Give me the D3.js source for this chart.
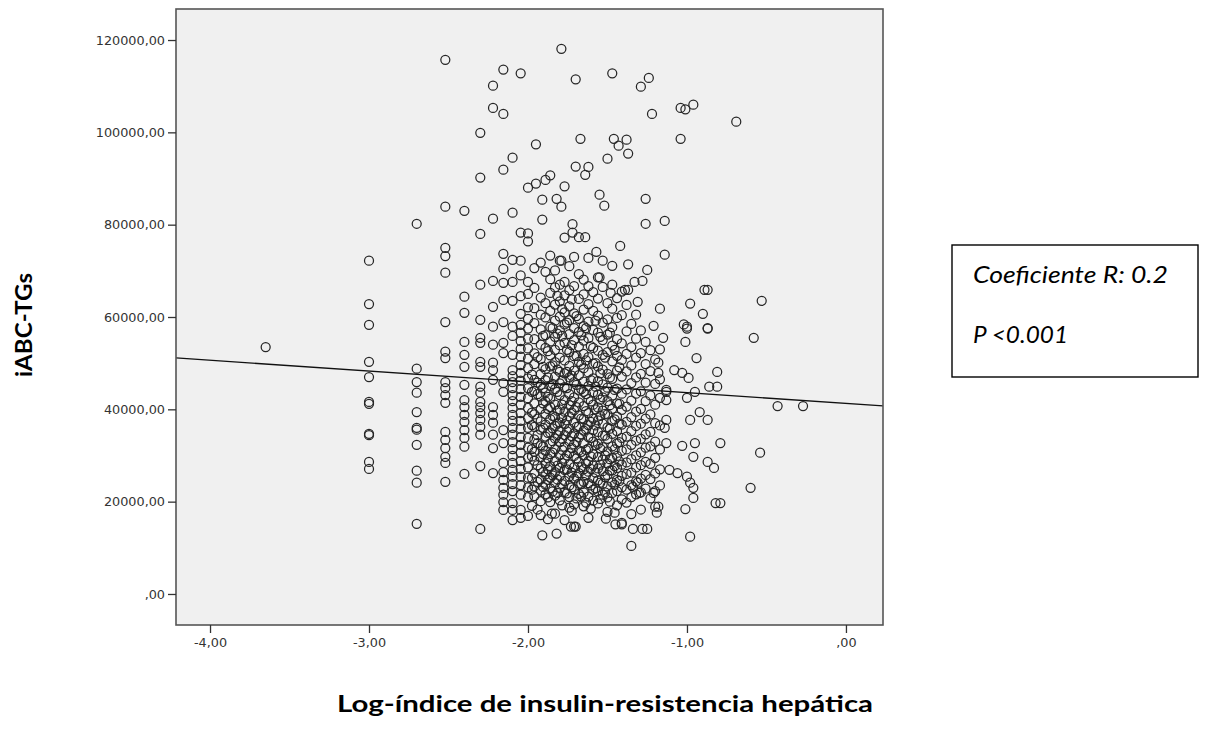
<!DOCTYPE html>
<html>
<head>
<meta charset="utf-8">
<script src="https://cdn.jsdelivr.net/npm/d3@7"></script>
<style>
  body { margin: 0; background: #fff; }
</style>
</head>
<body>
<div id="chart"></div>
<script>
// x = Log-índice de insulin-resistencia hepática, y = iABC-TGs
// discrete x levels (low resolution values) and their y readings
const levelX = [-3.65, -3.00, -2.70, -2.52, -2.40, -2.30, -2.22, -2.155, -2.097, -2.046, -2.00,
  -1.96, -1.92, -1.89, -1.86, -1.83, -1.80, -1.77, -1.74, -1.71, -1.68, -1.65, -1.62, -1.59,
  -1.56, -1.53, -1.50, -1.47, -1.44, -1.41, -1.38, -1.35, -1.32, -1.29, -1.26, -1.23, -1.20, -1.17];

const levelY = [
  [53500],
  [72200, 62800, 58300, 50300, 47000, 41600, 41200, 34700, 34400, 28600, 27100],
  [80200, 48800, 45900, 43600, 39400, 36000, 35600, 32300, 26700, 24100, 15200],
  [115700, 83900, 75000, 73200, 69600, 58900, 52500, 51100, 45900, 44600, 43100, 41400, 35100, 33400, 31600, 29700, 28400, 24300],
  [83000, 64400, 60900, 54600, 51800, 49200, 45300, 42000, 40500, 38800, 37300, 35500, 33800, 31900, 26000],
  [99900, 90200, 78000, 67000, 59400, 55500, 54400, 50300, 49200, 44900, 43600, 41600, 40500, 39200, 37700, 36200, 34500, 27700, 14100],
  [110100, 105300, 81300, 67800, 62200, 57900, 54000, 50100, 48500, 46400, 40500, 38800, 37100, 34500, 31600, 26200],
  [113600, 104000, 91900, 73700, 70400, 67400, 63700, 58900, 54400, 52200, 45700, 43800, 35500, 32700, 28400, 26400, 24700, 23000, 21500, 19900, 18200],
  [94500, 82600, 72400, 67600, 63500, 57900, 55900, 51800, 48500, 47200, 45900, 44600, 43100, 41800, 40300, 38800, 37500, 36000, 34500, 32900, 31400, 29900, 28400, 26900, 25400, 23800, 22300, 19700, 18200, 16000],
  [112800, 78300, 72200, 69000, 64500, 60700, 58300, 56600, 54800, 53100, 51400, 49600, 47900, 46200, 44400, 42700, 41000, 39200, 37500, 35800, 34000, 32300, 30600, 28800, 27100, 25400, 23600, 21500, 18200, 16500],
  [88000, 78100, 76400, 67600, 65000, 62100, 59600, 57500, 55300, 53200, 51000, 48900, 46700, 44600, 42400, 40300, 38100, 36000, 33800, 31700, 29500, 27400, 25200, 23100, 21000, 16900],
  [70600, 66300, 61900, 58700, 55200, 52100, 49800, 46400, 44000, 41300, 38900, 36200, 33500, 30800, 28900, 26100, 23300, 21200],
  [71800, 64200, 60500, 57300, 54000, 50900, 47600, 45300, 42800, 40100, 37400, 35600, 32200, 29600, 27200, 24800, 22400, 20100, 17100],
  [69800, 63000, 59900, 56100, 53300, 48700, 46300, 43600, 41700, 39000, 36700, 34100, 31000, 28300, 25900, 23700, 21600],
  [73300, 68200, 65200, 61300, 57900, 54700, 51700, 49300, 45100, 42300, 40500, 37900, 35000, 32600, 30300, 27700, 25200, 22900, 19900],
  [70100, 66400, 62700, 59200, 55700, 52900, 50200, 47100, 44400, 41000, 38300, 36400, 33700, 31400, 28800, 26400, 24100, 21300, 17400],
  [72200, 67000, 63400, 60100, 57100, 53900, 51200, 48100, 45600, 43100, 40000, 37200, 35300, 32900, 30100, 27300, 25600, 23000, 20300],
  [67600, 64700, 61000, 58400, 54400, 50600, 47800, 44800, 42000, 39500, 36800, 34400, 31900, 29300, 26900, 24500, 22100, 16000],
  [71000, 65800, 62300, 59300, 56300, 52400, 49400, 46900, 43300, 40900, 38500, 35800, 33100, 30500, 28100, 25500, 23500, 21000, 18700],
  [73000, 66700, 60800, 57600, 55000, 51500, 48400, 45900, 42600, 39800, 37100, 34800, 32400, 29900, 27500, 25000, 22700, 19400, 14600],
  [69300, 63900, 59600, 56800, 53600, 50300, 47400, 44100, 41500, 38700, 36300, 33900, 31100, 28600, 26200, 23900, 21700],
  [68100, 64900, 61600, 58000, 54900, 52000, 48900, 46000, 43800, 40700, 37900, 35400, 32700, 30000, 27000, 24300, 22000, 19000],
  [72800, 66700, 62800, 59000, 55400, 51300, 48000, 45000, 42200, 39200, 36600, 34000, 31500, 28800, 26500, 24000, 21100, 16500],
  [65400, 61300, 57200, 53300, 49900, 46700, 43700, 41000, 38000, 35500, 33000, 30300, 27800, 25100, 22600, 20200],
  [68600, 64000, 60300, 56600, 52700, 49300, 46100, 43200, 40400, 37600, 35100, 32500, 29700, 27200, 24600, 22200, 19600],
  [72200, 66500, 58800, 55000, 51800, 48600, 45400, 42600, 39700, 36900, 34300, 31800, 29100, 26600, 23900, 21500],
  [63000, 59500, 56200, 52400, 47700, 44700, 41800, 38900, 36100, 33600, 30900, 28300, 25800, 23300, 20900, 17800],
  [67000, 61800, 57800, 53800, 50400, 46600, 43000, 40100, 37500, 34700, 32000, 29500, 26800, 24200, 21900],
  [64100, 59800, 55200, 51600, 48400, 44500, 41300, 38400, 35300, 32600, 29900, 27300, 24700, 22300, 19200],
  [65500, 60400, 54300, 50700, 47100, 43400, 39900, 36700, 33800, 31000, 28000, 25600, 23100, 20500],
  [62600, 56900, 52000, 48200, 44300, 40600, 37300, 34100, 31300, 28500, 26000, 22600, 19800],
  [58500, 53500, 49500, 45700, 41900, 38300, 35300, 32300, 29200, 26300, 23600, 21000, 17300],
  [60500, 55300, 51200, 46900, 43400, 39500, 36400, 33200, 30000, 27400, 24400, 21600],
  [57100, 52200, 47700, 43900, 40100, 36900, 33600, 30700, 27900, 25000, 22000, 18300],
  [54600, 49800, 45800, 41800, 38000, 34600, 31700, 28600, 25800, 22800],
  [52800, 48300, 43000, 38900, 35100, 32000, 28200, 24900, 20700],
  [50800, 45500, 41000, 37000, 33000, 29500, 26100, 22300, 18900],
  [53000, 46500, 42500, 36500, 31300, 27000, 23500]
];

// second reading of the dense core, between the levels above
const coreX = [-1.975, -1.94, -1.905, -1.875, -1.845, -1.815, -1.785, -1.755, -1.725, -1.695,
  -1.665, -1.635, -1.605, -1.575, -1.545, -1.515, -1.485, -1.455, -1.425];

const coreY = [
  [47500, 43800, 39300, 36600, 31400, 29800, 25100, 22600, 19100],
  [51300, 45800, 43300, 38000, 34400, 32700, 27900, 24300, 18300],
  [55900, 49200, 44600, 41300, 36000, 31900, 30300, 26400, 23200],
  [52600, 46900, 42700, 40100, 34900, 29400, 27000, 24700, 20900, 16200],
  [57600, 49500, 45500, 38600, 35900, 33100, 30600, 25700, 22200],
  [64600, 56400, 48600, 43800, 39700, 36900, 34400, 27800, 24800, 21900],
  [61700, 55900, 46200, 41000, 38100, 33600, 31200, 28400, 23800, 19200],
  [58800, 52900, 48100, 44600, 37600, 35200, 30000, 27000, 21800],
  [63800, 53900, 47300, 41800, 39300, 34200, 31600, 26300, 23100, 18000],
  [60200, 51600, 45300, 40500, 36200, 32900, 29400, 25400, 20700],
  [56000, 49700, 44400, 38000, 34600, 30800, 27500, 23800, 21100],
  [57600, 50600, 43300, 39600, 35700, 31200, 28300, 25700, 19800],
  [53700, 46300, 41700, 37300, 33800, 29800, 27100, 23500, 18500],
  [59200, 50000, 44900, 40000, 36500, 32200, 26300, 22900],
  [55700, 47800, 42100, 38600, 31500, 28000, 24100, 20600],
  [51200, 43900, 39000, 34300, 30000, 25300, 22000],
  [56600, 46900, 40900, 35800, 29200, 26700, 20000],
  [52900, 44200, 37800, 31300, 27700, 23700, 17600],
  [49100, 41200, 36900, 32900, 28700, 24500]
];

// scattered points read one by one [x, y]
const loosePts = [
  [-1.79, 118100], [-1.70, 111500], [-1.47, 112800], [-1.24, 111800], [-1.29, 109900],
  [-1.22, 104000], [-1.04, 105300], [-1.01, 105000], [-0.96, 106000], [-0.69, 102300],
  [-1.67, 98600], [-1.46, 98600], [-1.38, 98400], [-1.43, 97100], [-1.37, 95400],
  [-1.04, 98600], [-1.95, 97400], [-1.50, 94300], [-1.70, 92600], [-1.62, 92500],
  [-1.64, 90800], [-1.86, 90700], [-1.89, 89700], [-1.95, 88900], [-1.77, 88300],
  [-1.55, 86500], [-1.52, 84100], [-1.91, 85400], [-1.82, 85600], [-1.79, 83900],
  [-1.26, 85600], [-1.26, 80200], [-1.14, 80800], [-1.14, 73500], [-1.91, 81100],
  [-1.72, 80100], [-1.77, 77200], [-1.68, 77300], [-1.64, 77300], [-1.72, 78300],
  [-1.42, 75400], [-1.37, 71400], [-1.25, 70200], [-1.79, 72200], [-1.57, 74100],
  [-1.47, 71100], [-1.31, 63300], [-1.37, 65900], [-1.28, 67800], [-1.33, 67600],
  [-1.39, 65900], [-1.48, 65200], [-1.55, 68600], [-1.17, 61800], [-0.98, 62900],
  [-0.90, 60700], [-0.87, 57500], [-1.02, 58400], [-1.00, 57500], [-0.89, 65900],
  [-0.87, 65900], [-0.53, 63500], [-0.58, 55500], [-0.94, 51100], [-1.21, 58100],
  [-1.15, 55500], [-0.43, 40700], [-0.27, 40700], [-0.54, 30600], [-0.60, 23000],
  [-0.79, 32700], [-0.82, 19700], [-0.79, 19700], [-0.87, 28600], [-0.83, 27300],
  [-0.98, 12400], [-1.01, 18400], [-0.96, 20800], [-0.96, 23000], [-0.98, 24100],
  [-1.00, 25400], [-1.06, 26200], [-1.11, 26900], [-0.96, 29700], [-1.03, 32100],
  [-0.95, 32700], [-1.13, 32700], [-0.98, 37700], [-0.92, 39400], [-0.87, 37700],
  [-1.00, 42500], [-0.95, 43800], [-0.86, 44900], [-0.81, 44900], [-0.81, 48100],
  [-1.08, 48500], [-1.03, 47900], [-0.99, 46800], [-1.13, 43800], [-1.13, 42000],
  [-1.01, 54600], [-1.00, 57900], [-0.87, 57600], [-1.18, 50100], [-1.18, 47900],
  [-1.13, 44200], [-1.13, 37700], [-1.14, 36000], [-1.35, 10400], [-1.34, 14100],
  [-1.28, 14100], [-1.25, 14100], [-1.19, 17600], [-1.18, 18900], [-1.41, 15400],
  [-1.21, 21900], [-1.30, 21900], [-1.34, 23200], [-1.31, 24100], [-1.91, 12700],
  [-1.82, 13100], [-1.85, 17400], [-1.73, 14600], [-1.70, 14600], [-1.51, 16300],
  [-1.45, 15100], [-1.41, 15100]
];

// fitted line y = fitA + fitB * x
const fitA = 41285;
const fitB = -2339;

const xTicks = [-4, -3, -2, -1, 0];
const yTicks = [0, 20000, 40000, 60000, 80000, 100000, 120000];

const statLines = ["Coeficiente R: 0.2", "P <0.001"];
const xTitle = "Log-índice de insulin-resistencia hepática";
const yTitle = "iABC-TGs";

function createChart() {
    const width = 1205, height = 746;
    const plot = { left: 176, top: 9, right: 883, bottom: 625 };

    const svg = d3.select("#chart").append("svg")
        .attr("width", width)
        .attr("height", height);

    const x = d3.scaleLinear().domain([-4.214, 0.233]).range([plot.left, plot.right]);
    const y = d3.scaleLinear().domain([-6720, 126720]).range([plot.bottom, plot.top]);

    // SPSS style numbers: comma decimal, plain hyphen, no leading zero
    const spss = d => d3.format(".2f")(d)
        .replace("\u2212", "-")
        .replace(".", ",")
        .replace(/^(-?)0,/, "$1,");

    svg.append("rect")
        .attr("x", plot.left)
        .attr("y", plot.top)
        .attr("width", plot.right - plot.left)
        .attr("height", plot.bottom - plot.top)
        .attr("fill", "#f0f0f0");

    let points = [];
    levelX.forEach((lx, i) => levelY[i].forEach(v => points.push([lx, v])));
    coreX.forEach((cx, i) => coreY[i].forEach(v => points.push([cx, v])));
    points = points.concat(loosePts);

    const plotArea = svg.append("g");

    plotArea.append("g")
        .attr("fill", "none")
        .attr("stroke", "#262626")
        .attr("stroke-width", 1.25)
        .selectAll("circle")
        .data(points)
        .join("circle")
        .attr("cx", d => x(d[0]))
        .attr("cy", d => y(d[1]))
        .attr("r", 4.5);

    const dom = x.domain();
    plotArea.append("line")
        .attr("x1", x(dom[0]))
        .attr("y1", y(fitA + fitB * dom[0]))
        .attr("x2", x(dom[1]))
        .attr("y2", y(fitA + fitB * dom[1]))
        .attr("stroke", "#111")
        .attr("stroke-width", 1.4);

    // frame
    svg.append("rect")
        .attr("x", plot.left)
        .attr("y", plot.top)
        .attr("width", plot.right - plot.left)
        .attr("height", plot.bottom - plot.top)
        .attr("fill", "none")
        .attr("stroke", "#555")
        .attr("stroke-width", 1.6);

    const yAxis = svg.append("g")
        .attr("transform", `translate(${plot.left},0)`)
        .call(d3.axisLeft(y).tickValues(yTicks).tickFormat(spss).tickSize(8).tickPadding(3));
    const xAxis = svg.append("g")
        .attr("transform", `translate(0,${plot.bottom})`)
        .call(d3.axisBottom(x).tickValues(xTicks).tickFormat(spss).tickSize(8).tickPadding(5));

    [xAxis, yAxis].forEach(a => {
        a.select(".domain").remove();
        a.selectAll(".tick line").attr("stroke", "#333").attr("stroke-width", 1.3);
        a.selectAll(".tick text")
            .attr("fill", "#333")
            .style("font-family", "'DejaVu Sans', sans-serif")
            .style("font-size", "12.8px");
    });

    svg.append("text")
        .attr("x", 605)
        .attr("y", 712)
        .attr("text-anchor", "middle")
        .attr("textLength", 536)
        .attr("lengthAdjust", "spacingAndGlyphs")
        .style("font-family", "Lato, 'Open Sans', sans-serif")
        .style("font-weight", "bold")
        .style("font-size", "23px")
        .attr("fill", "#000")
        .text(xTitle);

    svg.append("text")
        .attr("transform", "translate(32,325) rotate(-90)")
        .attr("text-anchor", "middle")
        .attr("textLength", 104)
        .attr("lengthAdjust", "spacingAndGlyphs")
        .style("font-family", "Lato, 'Open Sans', sans-serif")
        .style("font-weight", "bold")
        .style("font-size", "23px")
        .attr("fill", "#000")
        .text(yTitle);

    // stats box
    svg.append("rect")
        .attr("x", 952)
        .attr("y", 245)
        .attr("width", 246)
        .attr("height", 132)
        .attr("fill", "#fff")
        .attr("stroke", "#000")
        .attr("stroke-width", 1.4);

    svg.append("g")
        .selectAll("text")
        .data(statLines)
        .join("text")
        .attr("x", 973)
        .attr("y", (d, i) => 283 + i * 60)
        .attr("textLength", (d, i) => i === 0 ? 195 : 95)
        .attr("lengthAdjust", "spacingAndGlyphs")
        .style("font-family", "Lato, 'Open Sans', sans-serif")
        .style("font-style", "italic")
        .style("font-size", "23px")
        .attr("fill", "#000")
        .text(d => d);
}

document.addEventListener('DOMContentLoaded', function (e) {
    createChart();
});
</script>
</body>
</html>
